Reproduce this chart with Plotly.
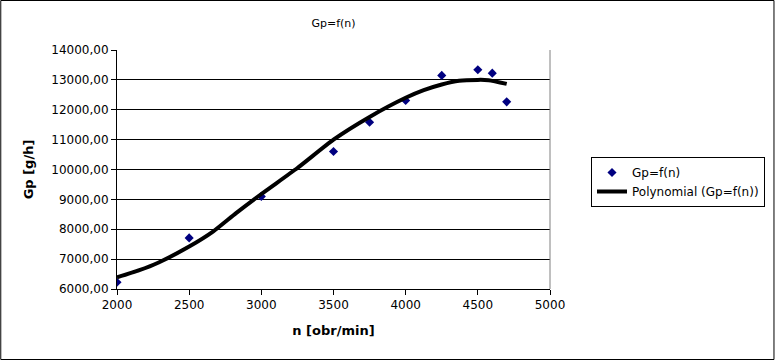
import plotly.graph_objects as go

# Measured data
n_vals = [2000, 2500, 3000, 3500, 3750, 4000, 4250, 4500, 4600, 4700]
gp_vals = [6225, 7710, 9100, 10600, 11580, 12310, 13150, 13340, 13225, 12265]

# Polynomial trendline
trend_n = [2000, 2155, 2285, 2500, 2665, 2825, 3000, 3250, 3500, 3750, 4000, 4125,
           4250, 4370, 4500, 4575, 4700]
trend_gp = [6390, 6630, 6880, 7420, 7920, 8540, 9180, 10050, 11000, 11760, 12400, 12655,
            12845, 12970, 13000, 12990, 12865]

y_ticks = [6000, 7000, 8000, 9000, 10000, 11000, 12000, 13000, 14000]
y_ticktext = ["6000,00", "7000,00", "8000,00", "9000,00", "10000,00",
              "11000,00", "12000,00", "13000,00", "14000,00"]
x_ticks = [2000, 2500, 3000, 3500, 4000, 4500, 5000]

FONT = "DejaVu Sans"

fig = go.Figure()
fig.add_trace(go.Scatter(
    x=n_vals, y=gp_vals, mode="markers", name="Gp=f(n)",
    marker=dict(symbol="diamond", size=7, color="#000080"),
))
fig.add_trace(go.Scatter(
    x=trend_n, y=trend_gp, mode="lines", name="Polynomial (Gp=f(n))",
    line=dict(color="black", width=4, shape="spline", smoothing=0.6),
))

L, R, T, B = 117, 225, 50, 71
W, H = 776, 360
pw, ph = W - L - R, H - T - B

fig.update_layout(
    width=W, height=H,
    margin=dict(l=L, r=R, t=T, b=B),
    paper_bgcolor="white", plot_bgcolor="white",
    font=dict(family=FONT, size=12, color="black"),
    title=dict(text="Gp=f(n)", x=0.5, xanchor="center", xref="paper",
               y=1 - 23 / H, yanchor="middle", font=dict(size=11)),
    showlegend=True,
    legend=dict(x=(591 - L) / pw, y=1 - (157 - T) / ph, xanchor="left", yanchor="top",
                bordercolor="black", borderwidth=1, bgcolor="white",
                font=dict(size=12), tracegroupgap=0),
    xaxis=dict(
        range=[2000, 5000], tickvals=x_ticks, showgrid=False, zeroline=False,
        showline=True, linecolor="black", linewidth=1,
        ticks="outside", ticklen=5, tickcolor="black",
        tickfont=dict(size=12),
        title=dict(text="<b>n [obr/min]</b>", font=dict(size=13), standoff=14),
    ),
    yaxis=dict(
        range=[6000, 14000], tickvals=y_ticks, ticktext=y_ticktext,
        showgrid=True, gridcolor="black", gridwidth=1, zeroline=False,
        showline=True, linecolor="black", linewidth=1,
        ticks="outside", ticklen=5, tickcolor="black",
        tickfont=dict(size=12),
        title=dict(text="<b>Gp [g/h]</b>", font=dict(size=13), standoff=14),
    ),
    shapes=[
        # gray right border of plot area
        dict(type="line", xref="paper", yref="paper", x0=1, x1=1, y0=0, y1=1,
             line=dict(color="#808080", width=1)),
        # outer frame of the whole image
        dict(type="rect", xref="paper", yref="paper",
             x0=-(L - 0.5) / pw, x1=1 + (R - 0.5) / pw,
             y0=-(B - 0.5) / ph, y1=1 + (T - 0.5) / ph,
             line=dict(color="black", width=1)),
    ],
)

fig.write_html(
    "out.html",
    config={"displayModeBar": False},
    post_script="document.body.style.margin='0';document.body.style.overflow='hidden';",
)
